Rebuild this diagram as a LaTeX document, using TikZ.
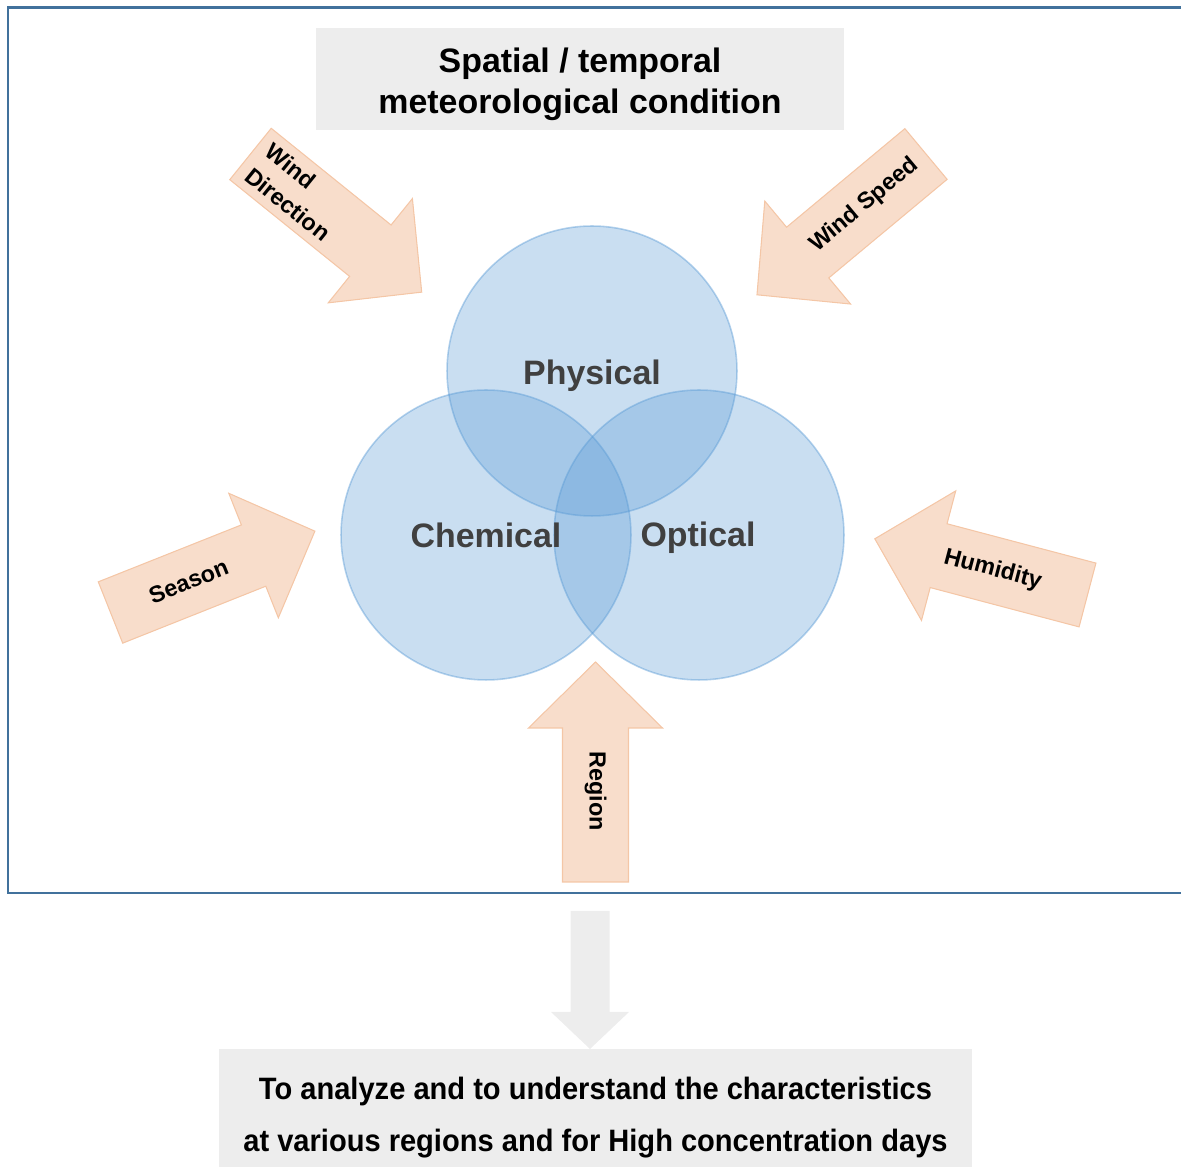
\documentclass[tikz,border=0pt]{standalone}
\usepackage{fontspec}
\setmainfont{Liberation Sans}
\newfontfamily\narrowfont[FakeStretch=0.94]{Liberation Sans}

\definecolor{framecol}{RGB}{65,113,156}
\definecolor{boxgray}{RGB}{237,237,237}
\definecolor{vennblue}{RGB}{91,155,213}
\definecolor{peach}{RGB}{248,221,203}
\definecolor{peachline}{RGB}{244,198,166}
\definecolor{darktext}{RGB}{64,64,64}

\tikzset{
  textbox/.style = {fill=boxgray, inner sep=0pt},
  venn/.style = {circle, minimum size=5.8cm, inner sep=0pt, fill=vennblue,
                 fill opacity=0.33, draw=vennblue, draw opacity=0.45, line width=0.9pt},
  venntext/.style = {text=darktext, font=\fontsize{19.3}{23}\selectfont\bfseries},
  factor/.style = {fill=peach, draw=peachline, line width=0.6pt},
  factortext/.style = {font=\fontsize{13.3}{18}\selectfont\bfseries, align=left, inner sep=0pt},
}

% peach block arrow: name, tail, angle, text angle, text distance, text
\newcommand{\factorarrow}[6]{%
  \begin{scope}[shift={(#2)}, rotate=#3]
    \path[factor] (0,-33) -- (154,-33) -- (154,-67) -- (220,0)
      -- (154,67) -- (154,33) -- (0,33) -- cycle;
    \node (#1) [factortext, rotate=#4] at (#5,0) {#6};
  \end{scope}}

\begin{document}
\begin{tikzpicture}[x=0.02cm, y=0.02cm]
  \useasboundingbox (0,0) rectangle (1181,1167);

  % frame
  \draw[framecol, line width=1.7pt] (1181,1159) -- (8,1159) -- (8,274) -- (1181,274);

  \node (cond) [textbox, minimum width=10.56cm, minimum height=2.04cm] at (580,1088) {};
  \node (condtext) [align=center, font=\fontsize{19.3}{23.2}\selectfont\bfseries]
        at (580,1083) {Spatial / temporal\\meteorological condition};

  % three circles
  \node (phys) [venn] at (592,796) {};
  \node (chem) [venn] at (486,632) {};
  \node (opt) [venn] at (699,632) {};
  \node (physlabel) [venntext] at (592,791) {Physical};
  \node (chemlabel) [venntext] at (486,632) {Chemical};
  \node (optlabel) [venntext] at (698,629) {Optical};

  % factors
  \factorarrow{wdir}{250.5,1013}{-38.9}{-38.9}{61}{Wind\\Direction}
  \factorarrow{wspeed}{926,1013}{-140.2}{39.8}{80}{Wind Speed}
  \factorarrow{season}{110.5,554.5}{21.7}{21.7}{84}{Season}
  \factorarrow{humid}{1087.5,572}{165.2}{-14.8}{98}{Humidity}
  \factorarrow{region}{595.5,285}{90}{-90}{91}{Region}

  % result
  \coordinate (flowtail) at (590,256);
  \begin{scope}[shift={(flowtail)}, rotate=-90]
    \path[fill=boxgray] (0,-19.5) -- (101,-19.5) -- (101,-39) -- (138,0)
      -- (101,39) -- (101,19.5) -- (0,19.5) -- cycle;
  \end{scope}
  \node (goal) [textbox, minimum width=15.06cm, minimum height=2.36cm] at (595.5,59) {};
  \node (goaltext) [align=center, font=\narrowfont\fontsize{17.6}{30}\selectfont\bfseries]
        at (595.5,49.5)
        {To analyze and to understand the characteristics\\at various regions and for High concentration days};
\end{tikzpicture}
\end{document}
